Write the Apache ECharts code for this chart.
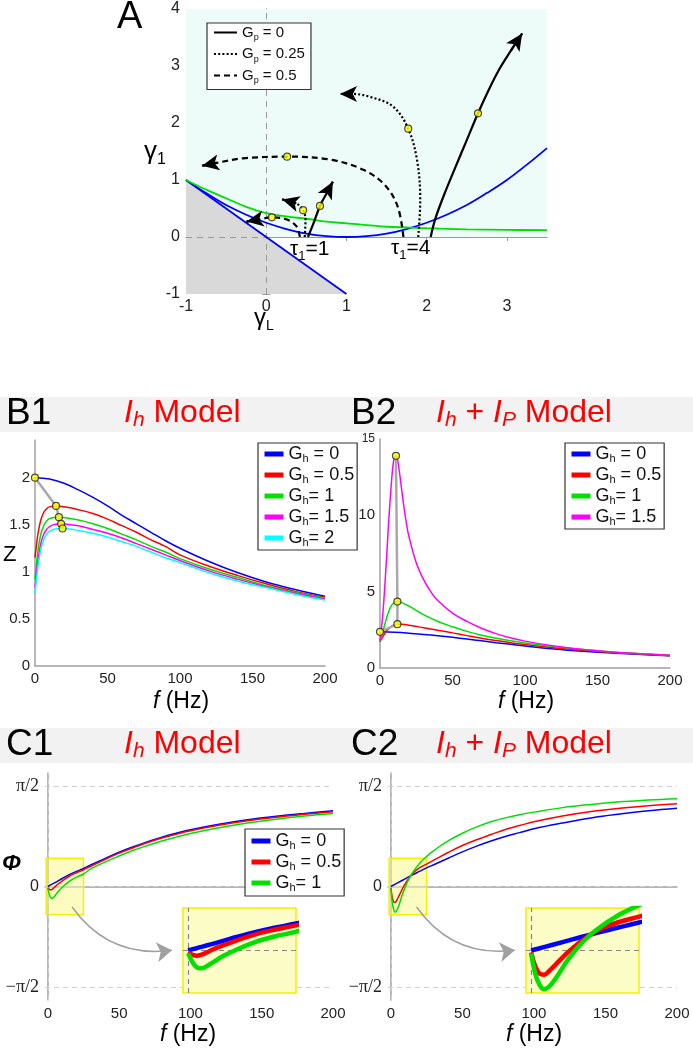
<!DOCTYPE html>
<html><head><meta charset="utf-8">
<script src="https://cdn.jsdelivr.net/npm/echarts@6/dist/echarts.min.js"></script>
<style>html,body{margin:0;padding:0;background:#fff}#c{width:693px;height:1050px}</style>
</head><body><div id="c"></div>
<script>
const FONT = '"Liberation Sans", Arial, Helvetica, sans-serif';
const SERIF = '"Liberation Serif", "Times New Roman", serif';

// ---------- Panel A (gamma_L, gamma_1) ----------
const aTicks = [-1, 0, 1, 2, 3];
const aParabola = [[-1,1],[-0.75,0.77],[-0.5,0.56],[-0.25,0.39],[0,0.25],[0.25,0.14],[0.5,0.06],[0.75,0.016],[1,0],[1.25,0.016],[1.5,0.06],[1.75,0.14],[2,0.25],[2.25,0.39],[2.5,0.56],[2.75,0.77],[3,1.0],[3.25,1.27],[3.5,1.56]];
const aDiagonal = [[-1,1],[1,-1]];
const aGreen = [[-1,1.0],[-0.75,0.83],[-0.5,0.68],[-0.25,0.53],[0,0.42],[0.25,0.36],[0.5,0.32],[0.75,0.27],[1,0.24],[1.25,0.21],[1.5,0.18],[2,0.155],[2.5,0.135],[3,0.125],[3.5,0.12]];
const aCyanEdge = [[-1,1],[0,0],[3.5,0]];
const tau1Solid = [[0.52,0],[0.60,0.28],[0.67,0.545],[0.75,0.76],[0.83,0.97]];
const tau1Dotted = [[0.48,0],[0.49,0.30],[0.46,0.47],[0.375,0.59],[0.20,0.66]];
const tau1Dashed = [[0.42,0],[0.375,0.19],[0.25,0.31],[0.07,0.345],[-0.08,0.31],[-0.245,0.27]];
const tau4Solid = [[2.05,0],[2.11,0.33],[2.22,0.75],[2.36,1.23],[2.50,1.70],[2.64,2.17],[2.77,2.57],[2.90,2.93],[3.05,3.27],[3.19,3.57]];
const tau4Dotted = [[1.895,0],[1.92,0.65],[1.88,1.35],[1.77,1.9],[1.58,2.29],[1.29,2.46],[1.08,2.51],[0.92,2.51]];
const tau4Dashed = [[1.71,0],[1.64,0.53],[1.48,0.91],[1.21,1.18],[0.79,1.36],[0.26,1.41],[-0.29,1.38],[-0.62,1.30],[-0.80,1.25]];
const aDots = [[0.67,0.545],[0.46,0.47],[0.07,0.345],[2.64,2.17],[1.77,1.9],[0.26,1.41]];

// ---------- Panel B1 (f, Z) Ih model ----------
const b1Gh0 = [[0,2.00],[10,1.985],[20,1.94],[30,1.87],[40,1.79],[50,1.70],[60,1.60],[70,1.51],[80,1.42],[90,1.33],[100,1.25],[120,1.11],[140,0.99],[160,0.89],[180,0.81],[200,0.74]];
const b1Gh05 = [[0,1.15],[1,1.28],[2,1.40],[4,1.55],[6,1.63],[8,1.67],[10,1.69],[14.5,1.70],[20,1.69],[30,1.66],[40,1.62],[50,1.56],[60,1.49],[70,1.42],[80,1.34],[90,1.27],[100,1.18],[120,1.06],[140,0.96],[160,0.87],[180,0.79],[200,0.73]];
const b1Gh1 = [[0,0.92],[1,1.08],[2,1.22],[4,1.40],[6,1.49],[8,1.54],[10,1.565],[13,1.578],[16.5,1.58],[20,1.577],[30,1.55],[40,1.51],[50,1.46],[60,1.40],[70,1.34],[80,1.27],[90,1.21],[100,1.14],[120,1.03],[140,0.94],[160,0.85],[180,0.78],[200,0.72]];
const b1Gh15 = [[0,0.83],[1,0.98],[2,1.12],[4,1.30],[6,1.40],[8,1.45],[10,1.48],[14,1.505],[18,1.51],[22,1.505],[30,1.49],[40,1.45],[50,1.41],[60,1.36],[70,1.30],[80,1.24],[90,1.18],[100,1.12],[120,1.01],[140,0.92],[160,0.84],[180,0.77],[200,0.71]];
const b1Gh2 = [[0,0.77],[1,0.92],[2,1.05],[4,1.24],[6,1.34],[8,1.40],[10,1.43],[14,1.455],[19,1.46],[24,1.455],[30,1.44],[40,1.41],[50,1.37],[60,1.32],[70,1.27],[80,1.21],[90,1.15],[100,1.10],[120,0.99],[140,0.90],[160,0.83],[180,0.76],[200,0.70]];
const b1Peaks = [[0,2.0],[14.5,1.70],[16.5,1.58],[18,1.51],[19,1.46]];
const b1YTicks = [0,0.5,1,1.5,2];

// ---------- Panel B2 (f, Z) Ih + IP model ----------
const b2Gh0 = [[0,2.37],[10,2.34],[20,2.28],[30,2.20],[40,2.11],[50,2.01],[60,1.90],[70,1.78],[80,1.66],[90,1.55],[100,1.44],[120,1.25],[140,1.10],[160,0.98],[180,0.88],[200,0.80]];
const b2Gh05 = [[0,1.72],[2,2.05],[4,2.35],[6,2.58],[8,2.74],[10,2.83],[12,2.87],[15,2.86],[20,2.80],[30,2.64],[40,2.47],[50,2.30],[60,2.12],[70,1.95],[80,1.80],[90,1.66],[100,1.54],[120,1.33],[140,1.16],[160,1.02],[180,0.91],[200,0.81]];
const b2Gh1 = [[0,1.75],[2,2.4],[4,3.1],[6,3.7],[8,4.1],[10,4.3],[12,4.35],[15,4.28],[20,4.05],[25,3.78],[30,3.50],[40,3.05],[50,2.70],[60,2.40],[70,2.15],[80,1.95],[90,1.78],[100,1.64],[120,1.40],[140,1.21],[160,1.05],[180,0.93],[200,0.83]];
const b2Gh15 = [[0,1.8],[1,2.6],[2,3.6],[3,4.9],[4,6.4],[5,8.0],[6,9.6],[7,11.0],[8,12.3],[9,13.3],[10,13.8],[11,13.9],[12,13.7],[13,13.1],[14,12.4],[16,10.9],[18,9.6],[20,8.6],[25,6.9],[30,5.8],[35,5.0],[40,4.4],[50,3.6],[60,3.05],[70,2.6],[80,2.25],[90,1.98],[100,1.76],[120,1.44],[140,1.21],[160,1.05],[180,0.93],[200,0.84]];
const b2Peaks = [[0,2.37],[12,2.87],[12,4.35],[11,13.9]];

// ---------- Panel C1 (f, phase) Ih model ----------
const c1Gh0 = [[0,0],[2,0.025],[5,0.06],[10,0.125],[15,0.185],[20,0.235],[25,0.28],[30,0.335],[40,0.435],[50,0.535],[60,0.62],[70,0.70],[80,0.77],[90,0.83],[100,0.885],[120,0.97],[140,1.04],[160,1.095],[180,1.14],[200,1.18]];
const c1Gh05 = [[0,-0.02],[1,-0.045],[2,-0.055],[3,-0.045],[5,-0.005],[7,0.035],[10,0.085],[15,0.16],[20,0.215],[25,0.26],[30,0.315],[40,0.42],[50,0.52],[60,0.605],[70,0.685],[80,0.755],[90,0.815],[100,0.87],[120,0.955],[140,1.025],[160,1.08],[180,1.125],[200,1.165]];
const c1Gh1 = [[0,-0.03],[1,-0.12],[2,-0.175],[3,-0.185],[4,-0.17],[6,-0.115],[8,-0.06],[10,-0.015],[15,0.08],[20,0.145],[25,0.195],[30,0.275],[40,0.38],[50,0.475],[60,0.565],[70,0.64],[80,0.71],[90,0.77],[100,0.825],[120,0.915],[140,0.99],[160,1.05],[180,1.10],[200,1.14]];

// ---------- Panel C2 (f, phase) Ih + IP model ----------
const c2Gh0 = [[0,0],[5,0.06],[10,0.12],[15,0.18],[20,0.235],[25,0.29],[30,0.34],[40,0.44],[50,0.54],[60,0.63],[70,0.71],[80,0.78],[90,0.84],[100,0.90],[120,0.99],[140,1.07],[160,1.13],[180,1.18],[200,1.22]];
const c2Gh05 = [[0,-0.02],[1,-0.17],[2,-0.24],[3,-0.25],[4,-0.22],[6,-0.13],[8,-0.04],[10,0.04],[13,0.14],[16,0.22],[20,0.29],[25,0.35],[30,0.41],[40,0.53],[50,0.64],[60,0.73],[70,0.81],[80,0.89],[90,0.95],[100,1.01],[120,1.10],[140,1.17],[160,1.22],[180,1.26],[200,1.29]];
const c2Gh1 = [[0,-0.03],[1,-0.25],[2,-0.36],[3,-0.40],[4,-0.38],[5,-0.33],[6,-0.27],[8,-0.13],[10,-0.01],[12,0.09],[15,0.21],[20,0.36],[25,0.47],[30,0.56],[40,0.71],[50,0.83],[60,0.93],[70,1.01],[80,1.07],[90,1.12],[100,1.16],[120,1.23],[140,1.28],[160,1.32],[180,1.35],[200,1.37]];

const phaseTicks = [-Math.PI/2, 0, Math.PI/2];
const phaseTickLabels = ['−π/2', '0', 'π/2'];
const fTicks = [0,50,100,150,200];
const insetF = [-1.2, 25];
const insetPhi = [-0.44, 0.44];
const c1Arrow = [[17,-0.32],[87,-0.995]];
const c2Arrow = [[18,-0.32],[86.7,-0.995]];

const ghLabels = ['= 0', '= 0.5', '= 1', '= 1.5', '= 2'];
const ghSpacing = [' ', ' ', '', '', ''];
const gpLabels = ['= 0', '= 0.25', '= 0.5'];

const BLUE='#0000ff', RED='#ff0000', GREEN='#00e000', MAG='#ff00ff', CYAN='#00ffff';
const legendText = {};
['Gp0','Gp025','Gp05'].forEach((n,i)=>legendText[n]='{g|G}{s|p}{g| '+gpLabels[i]+'}');
['B1','B2','C1'].forEach(p=>{
  ['0','05','1','15','2'].forEach((k,i)=>legendText[p+'_'+k]='{g|G}{s|h}{g|'+ghSpacing[i]+ghLabels[i]+'}');
});

function curve(name, data, color, ai, width, extra){
  return Object.assign({type:'line', name, data, xAxisIndex:ai, yAxisIndex:ai, symbol:'none',
    smooth:0.4, silent:true,
    lineStyle:{color, width}, itemStyle:{color}}, extra||{});
}
function traj(name, data, type){
  const n = data.length;
  return {type:'line', name, data, xAxisIndex:0, yAxisIndex:0, symbol:'none', smooth:0.35, silent:true,
    lineStyle:{color:'#000', width:2.2, type}, itemStyle:{color:'#000'}, z:3,
    markLine:{silent:true, symbol:['none','arrow'], symbolSize:[12,17], label:{show:false},
      lineStyle:{color:'#000', width:2.2, type}, z:5,
      data:[[{coord:data[n-2]},{coord:data[n-1]}]]}};
}
function dots(data, ai){
  return {type:'scatter', data, xAxisIndex:ai, yAxisIndex:ai, symbolSize:7, silent:true, z:6,
    itemStyle:{color:'#ffff00', borderColor:'#222', borderWidth:1.2}};
}
function peakLine(data, ai){
  return {type:'line', data, xAxisIndex:ai, yAxisIndex:ai, symbol:'none', silent:true, z:4,
    lineStyle:{color:'#a8a8a8', width:2.5}};
}
function legendCfg(names, left, top, fs, iconW, lw, extra){
  return Object.assign({data:names, left, top, orient:'vertical', itemWidth:iconW, itemHeight:12,
    itemGap:2, padding:[2,3,2,4], borderColor:'#333', borderWidth:1.2, backgroundColor:'#fff',
    selectedMode:false, lineStyle:{width:lw}, itemStyle:{opacity:0, borderWidth:0},
    formatter:n=>legendText[n],
    textStyle:{fontFamily:FONT, fontSize:fs, color:'#111',
      rich:{g:{fontFamily:FONT, fontSize:fs, lineHeight:20, color:'#111'},
            s:{fontFamily:FONT, fontSize:Math.round(fs*0.62), lineHeight:12, verticalAlign:'bottom', color:'#111'}}}}, extra||{});
}

const axisLab = {fontFamily:FONT, fontSize:15, color:'#222'};
const grayLine = {show:true, lineStyle:{color:'#a0a0a0', width:1.5}};
const grids = [
  {left:186, top:9, width:361, height:285},
  {left:35, top:440, width:290, height:226},
  {left:380, top:439, width:290, height:229},
  {left:45, top:773, width:288, height:227},
  {left:388, top:773, width:289, height:227},
  {left:183, top:908, width:113, height:85},
  {left:526, top:908, width:113, height:85}
].map(g=>Object.assign({containLabel:false, outerBoundsMode:'none'}, g));

const xAxes = [
  {gridIndex:0, type:'value', min:-1, max:3.5, position:'bottom',
   axisLine:{lineStyle:{color:'#999', width:1}}, axisTick:{inside:true, length:4, lineStyle:{color:'#999'}, customValues:aTicks},
   axisLabel:{...axisLab, fontSize:16, margin:5, customValues:aTicks}, splitLine:{show:false}},
  {gridIndex:0, type:'value', min:-1, max:3.5, position:'top',
   axisLine:{lineStyle:{color:'#999', width:1}}, axisTick:{inside:true, length:4, lineStyle:{color:'#999'}, customValues:aTicks},
   axisLabel:{show:false}, splitLine:{show:false}},
  {gridIndex:1, type:'value', min:0, max:200, interval:50, axisLine:grayLine, axisTick:{show:false},
   axisLabel:{...axisLab, margin:5}, splitLine:{show:false}},
  {gridIndex:2, type:'value', min:0, max:200, interval:50, axisLine:grayLine, axisTick:{show:false},
   axisLabel:{...axisLab, margin:5}, splitLine:{show:false}},
  {gridIndex:3, type:'value', min:-2, max:200, axisLine:grayLine, axisTick:{show:false},
   axisLabel:{...axisLab, margin:6, customValues:fTicks}, splitLine:{show:false}},
  {gridIndex:4, type:'value', min:-2, max:200, axisLine:grayLine, axisTick:{show:false},
   axisLabel:{...axisLab, margin:6, customValues:fTicks}, splitLine:{show:false}},
  {gridIndex:5, type:'value', min:insetF[0], max:insetF[1], show:false},
  {gridIndex:6, type:'value', min:insetF[0], max:insetF[1], show:false}
];
const phaseLabel = {margin:6, customValues:phaseTicks,
  formatter:v=>{const i = phaseTicks.findIndex(t=>Math.abs(t-v)<1e-6); return i===1 ? '{z|0}' : '{p|'+phaseTickLabels[i]+'}';},
  rich:{p:{fontFamily:SERIF, fontSize:18, color:'#222'}, z:{fontFamily:FONT, fontSize:16, color:'#222'}}};
const yAxes = [
  {gridIndex:0, type:'value', min:-1, max:4, interval:1, position:'left',
   axisLine:{show:true, lineStyle:{color:'#999', width:1}}, axisTick:{show:true, inside:true, length:4, lineStyle:{color:'#999'}},
   axisLabel:{...axisLab, fontSize:16, margin:6}, splitLine:{show:false}},
  {gridIndex:0, type:'value', min:-1, max:4, interval:1, position:'right',
   axisLine:{show:true, lineStyle:{color:'#999', width:1}}, axisTick:{show:true, inside:true, length:4, lineStyle:{color:'#999'}},
   axisLabel:{show:false}, splitLine:{show:false}},
  {gridIndex:1, type:'value', min:0, max:2.4, axisLine:grayLine, axisTick:{show:false},
   axisLabel:{...axisLab, margin:5, customValues:b1YTicks}, splitLine:{show:false}},
  {gridIndex:2, type:'value', min:0, max:15, interval:5, axisLine:grayLine, axisTick:{show:false},
   axisLabel:{...axisLab, margin:5, formatter:v=>v===15?'{s|15}':String(v), rich:{s:{fontFamily:FONT, fontSize:12, color:'#222'}}}, splitLine:{show:false}},
  {gridIndex:3, type:'value', min:-1.77, max:1.77, axisLine:grayLine, axisTick:{show:false},
   axisLabel:phaseLabel, splitLine:{show:false}},
  {gridIndex:4, type:'value', min:-1.77, max:1.77, axisLine:grayLine, axisTick:{show:false},
   axisLabel:phaseLabel, splitLine:{show:false}},
  {gridIndex:5, type:'value', min:insetPhi[0], max:insetPhi[1], show:false},
  {gridIndex:6, type:'value', min:insetPhi[0], max:insetPhi[1], show:false}
];

const refDash = {silent:true, symbol:['none','none'], label:{show:false}, z:1};
const series = [
  {type:'line', data:aCyanEdge, xAxisIndex:0, yAxisIndex:0, symbol:'none', silent:true, z:1,
   lineStyle:{width:0, opacity:0}, areaStyle:{origin:'end', color:'#eefcf9', opacity:1},
   markLine:{...refDash, z:1.5, lineStyle:{color:'#999', type:[6,5], width:1}, data:[{xAxis:0},{yAxis:0}]}},
  {type:'line', data:aDiagonal, xAxisIndex:0, yAxisIndex:0, symbol:'none', silent:true, z:1,
   lineStyle:{width:0, opacity:0}, areaStyle:{origin:'start', color:'#d9d9d9', opacity:1}},
  {type:'line', data:aDiagonal, xAxisIndex:0, yAxisIndex:0, symbol:'none', silent:true, z:2, lineStyle:{color:BLUE, width:1.8}},
  {type:'line', data:aParabola, xAxisIndex:0, yAxisIndex:0, symbol:'none', smooth:0.4, silent:true, z:2, lineStyle:{color:BLUE, width:1.8}},
  {type:'line', data:aGreen, xAxisIndex:0, yAxisIndex:0, symbol:'none', smooth:0.4, silent:true, z:2, lineStyle:{color:GREEN, width:1.8}},
  traj('Gp0', tau4Solid, 'solid'), traj('Gp0', tau1Solid, 'solid'),
  traj('Gp025', tau4Dotted, [2,2.2]), traj('Gp025', tau1Dotted, [2,2.2]),
  traj('Gp05', tau4Dashed, [6,4]), traj('Gp05', tau1Dashed, [6,4]),
  dots(aDots, 0),
  curve('B1_0', b1Gh0, BLUE, 2, 1.5), curve('B1_05', b1Gh05, RED, 2, 1.5), curve('B1_1', b1Gh1, GREEN, 2, 1.5),
  curve('B1_15', b1Gh15, MAG, 2, 1.5), curve('B1_2', b1Gh2, CYAN, 2, 1.5),
  peakLine(b1Peaks, 2), dots(b1Peaks, 2),
  curve('B2_0', b2Gh0, BLUE, 3, 1.5), curve('B2_05', b2Gh05, RED, 3, 1.5), curve('B2_1', b2Gh1, GREEN, 3, 1.5),
  curve('B2_15', b2Gh15, MAG, 3, 1.5),
  peakLine(b2Peaks, 3), dots(b2Peaks, 3)
];
function phasePanel(prefix, ai, inset, d0, d05, d1, arrow){
  series.push(curve(prefix+'_0', d0, BLUE, ai, 1.5, {
    markLine:{...refDash, lineStyle:{color:'#cfcfcf', type:[5,4], width:1},
      data:[{yAxis:phaseTicks[0]},{yAxis:phaseTicks[1]},{yAxis:phaseTicks[2]},{xAxis:0}]},
    markArea:{silent:true, z:1, itemStyle:{color:'rgba(250,250,140,0.55)', borderColor:'#f4f000', borderWidth:1.5},
      data:[[{coord:[insetF[0], insetPhi[0]]},{coord:[insetF[1], insetPhi[1]]}]]}}));
  series.push(curve(prefix+'_05', d05, RED, ai, 1.5));
  series.push(curve(prefix+'_1', d1, GREEN, ai, 1.5));
  series.push({type:'lines', coordinateSystem:'cartesian2d', xAxisIndex:ai, yAxisIndex:ai, silent:true, z:3,
    symbol:['none','arrow'], symbolSize:[11,15], lineStyle:{color:'#a0a0a0', width:1.5, curveness:-0.3, opacity:1},
    data:[{coords:arrow}]});
  series.push(curve(prefix+'i_0', d0, BLUE, inset, 4.5, {z:6,
    markArea:{silent:true, z:3, itemStyle:{color:'#fcfcc6', borderColor:'#f4f000', borderWidth:1.5},
      data:[[{coord:[insetF[0], insetPhi[0]]},{coord:[insetF[1], insetPhi[1]]}]]},
    markLine:{...refDash, z:4, lineStyle:{color:'#888', type:[5,4], width:1.2}, data:[{xAxis:0},{yAxis:0}]}}));
  series.push(curve(prefix+'i_05', d05, RED, inset, 4.5, {z:6}));
  series.push(curve(prefix+'i_1', d1, GREEN, inset, 4.5, {z:6}));
}
phasePanel('C1', 4, 6, c1Gh0, c1Gh05, c1Gh1, c1Arrow);
phasePanel('C2', 5, 7, c2Gh0, c2Gh05, c2Gh1, c2Arrow);

function txt(x, y, text, fs, opts){
  return {type:'text', x, y, silent:true, z:10,
    style:Object.assign({text, fontSize:fs, fontFamily:FONT, fill:'#000', align:'left', verticalAlign:'middle'}, (opts||{}))};
}
function rt(x, y, text, rich, opts){
  return txt(x, y, text, 20, Object.assign({rich}, opts||{}));
}
const redT = (fs, it)=>({fontFamily:FONT, fontSize:fs, fill:'#f00', fontStyle:it?'italic':'normal', lineHeight:36});
const redSub = fs=>({fontFamily:FONT, fontSize:fs, fill:'#f00', fontStyle:'italic', lineHeight:20, verticalAlign:'bottom'});
const titleRich = {i:redT(32,true), h:redSub(21), m:redT(32,false)};
const fRich = {f:{fontFamily:FONT, fontSize:23, fontStyle:'italic', fill:'#000'}, t:{fontFamily:FONT, fontSize:23, fill:'#000'}};
const gRich = fs=>({g:{fontFamily:FONT, fontSize:fs, fill:'#000', lineHeight:fs+6}, s:{fontFamily:FONT, fontSize:Math.round(fs*0.6), fill:'#000', lineHeight:Math.round(fs*0.6)+2, verticalAlign:'bottom'}});

const graphic = [
  {type:'rect', shape:{x:0, y:397, width:693, height:35}, style:{fill:'#f2f2f2'}, silent:true, z:-1},
  {type:'rect', shape:{x:0, y:728, width:693, height:35}, style:{fill:'#f2f2f2'}, silent:true, z:-1},
  txt(117, 18, 'A', 38),
  rt(144, 152, '{g|γ}{s|1}', gRich(26)),
  rt(254, 318, '{g|γ}{s|L}', gRich(24)),
  rt(290, 249, '{g|τ}{s|1}{g|=1}', gRich(21)),
  rt(391, 248, '{g|τ}{s|1}{g|=4}', gRich(21)),
  txt(6, 414, 'B1', 37), txt(351, 414, 'B2', 37),
  txt(6, 745, 'C1', 37), txt(351, 745, 'C2', 37),
  rt(124, 413, '{i|I}{h|h}{m| Model}', titleRich),
  rt(436, 413, '{i|I}{h|h}{m| + }{i|I}{h|P}{m| Model}', titleRich),
  rt(124, 744, '{i|I}{h|h}{m| Model}', titleRich),
  rt(436, 744, '{i|I}{h|h}{m| + }{i|I}{h|P}{m| Model}', titleRich),
  txt(3, 555, 'Z', 22),
  txt(2, 864, 'Φ', 23, {fontStyle:'italic', fontWeight:'bold'}),
  rt(181, 702, '{f|f}{t| (Hz)}', fRich, {align:'center'}),
  rt(526, 702, '{f|f}{t| (Hz)}', fRich, {align:'center'}),
  rt(188, 1035, '{f|f}{t| (Hz)}', fRich, {align:'center'}),
  rt(534, 1035, '{f|f}{t| (Hz)}', fRich, {align:'center'})
];

const option = {
  animation:false,
  backgroundColor:'#fff',
  textStyle:{fontFamily:FONT},
  grid:grids, xAxis:xAxes, yAxis:yAxes, series,
  legend:[
    legendCfg(['Gp0','Gp025','Gp05'], 207, 23, 15, 23, 2, {padding:[2,6,4,6], itemGap:4}),
    legendCfg(['B1_0','B1_05','B1_1','B1_15','B1_2'], 258, 443, 18, 19, 5),
    legendCfg(['B2_0','B2_05','B2_1','B2_15'], 565, 443, 18, 19, 5),
    legendCfg(['C1_0','C1_05','C1_1'], 245, 829, 18, 19, 5, {padding:[3,3,3,4]})
  ],
  graphic
};
const chart = echarts.init(document.getElementById('c'), null, {renderer:'canvas'});
chart.setOption(option);
</script></body></html>
